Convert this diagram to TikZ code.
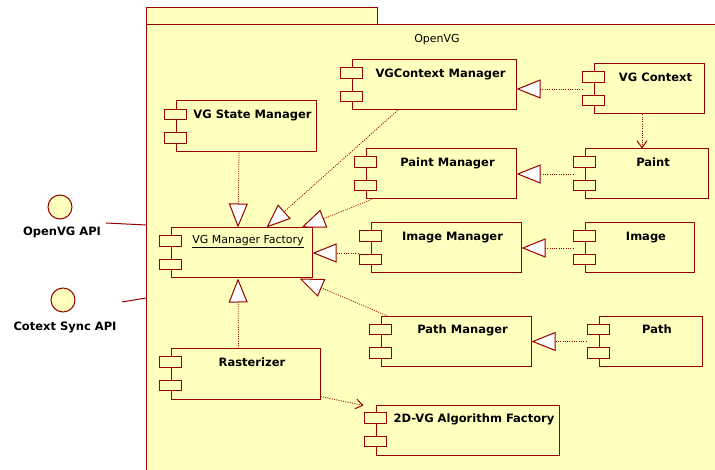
\documentclass[tikz,border=0pt]{standalone}
\usepackage{fontspec}
\setmainfont{DejaVu Sans}
\usetikzlibrary{arrows.meta,calc}

\definecolor{umlred}{RGB}{150,0,0}
\definecolor{umlfill}{RGB}{255,255,190}

\tikzset{
	comp/.style={draw=umlred, fill=umlfill, line width=1pt, inner sep=0pt},
	smallbox/.style={draw=umlred, fill=umlfill, line width=1pt, inner sep=0pt,
		minimum width=22pt, minimum height=10.5pt},
	lbl/.style={anchor=base, inner sep=0pt, xshift=6.5pt, yshift=-18pt,
		font=\fontsize{11.5}{14}\selectfont\bfseries},
	realize/.style={umlred, line width=0.8pt, dash pattern=on 1pt off 1.3pt,
		-{Triangle[length=24pt, width=19pt, fill=white, line width=1pt]}},
	depend/.style={umlred, line width=0.8pt, dash pattern=on 1pt off 1.3pt,
		-{Straight Barb[length=7pt, width=10pt, line width=1pt]}},
	iface/.style={circle, draw=umlred, fill=umlfill, line width=1pt, minimum size=24pt, inner sep=0pt},
}

\begin{document}
\begin{tikzpicture}[x=1pt, y=-1pt]

		\useasboundingbox (0,0) rectangle (715,470);

		% Draw the package with its tab
		\draw[umlred, fill=umlfill, line width=1pt] (146,8) rectangle (377,25);
		\draw[umlred, fill=umlfill, line width=1pt] (146,25) rectangle (730,490);
		\node[font=\fontsize{11}{13}\selectfont] (pkgname) at (437,40) {OpenVG};

		% Draw the components
		\node[comp, minimum width=140pt, minimum height=51pt,
			label={[lbl]north:VG State Manager}] (vgsm) at (246,126.5) {};
		\node[comp, minimum width=164pt, minimum height=50pt,
			label={[lbl]north:VGContext Manager}] (vgcm) at (434,85) {};
		\node[comp, minimum width=110pt, minimum height=50pt,
			label={[lbl]north:VG Context}] (vgc) at (649,89) {};
		\node[comp, minimum width=150pt, minimum height=50pt,
			label={[lbl]north:Paint Manager}] (pm) at (441,174) {};
		\node[comp, minimum width=123pt, minimum height=50pt,
			label={[lbl]north:Paint}] (paint) at (646.5,174) {};
		\node[comp, minimum width=150pt, minimum height=50pt,
			label={[lbl]north:Image Manager}] (im) at (446,248) {};
		\node[comp, minimum width=109pt, minimum height=50pt,
			label={[lbl]north:Image}] (img) at (639.5,248) {};
		\node[comp, minimum width=141pt, minimum height=50pt,
			label={[lbl, font=\fontsize{11}{13}\selectfont, yshift=2pt]north:\underline{VG Manager Factory}}] (vgmf) at (241.5,253) {};
		\node[comp, minimum width=150pt, minimum height=50pt,
			label={[lbl]north:Path Manager}] (pthm) at (456,341.5) {};
		\node[comp, minimum width=103pt, minimum height=50pt,
			label={[lbl]north:Path}] (path) at (650.5,341.5) {};
		\node[comp, minimum width=149pt, minimum height=50pt,
			label={[lbl]north:Rasterizer}] (rast) at (245.5,374) {};
		\node[comp, minimum width=183pt, minimum height=50pt,
			label={[lbl]north:2D-VG Algorithm Factory}] (algo) at (467.5,430) {};

		% Draw the two small boxes on each component
		\foreach \n in {vgsm,vgcm,vgc,pm,paint,im,img,vgmf,pthm,path,rast,algo} {
			\node[smallbox] (\n-a) at ([yshift=12pt]\n.west) {};
			\node[smallbox] (\n-b) at ([yshift=-11.5pt]\n.west) {};
		}

		% Draw the realizations into the factory
		\draw[realize] ([xshift=-7pt]vgsm.south) -- ([xshift=-3.5pt]vgmf.north);
		\draw[realize] ([xshift=46pt]vgcm.south west) -- ([xshift=96pt]vgmf.north west);
		\draw[realize] ([xshift=6pt]pm.south west) -- ([xshift=-11pt]vgmf.north east);
		\draw[realize] ([xshift=-12pt]im.west |- vgmf.east) -- (vgmf.east);
		\draw[realize] ([xshift=7pt]pthm.north west) -- ([xshift=-13pt]vgmf.south east);
		\draw[realize] ([xshift=-7pt]rast.north) -- ([xshift=-3.5pt]vgmf.south);

		% Draw the realizations into the managers
		\draw[realize] ([xshift=-11pt]vgc.west) -- (vgcm.east |- vgc.west);
		\draw[realize] ([xshift=-11pt]paint.west) -- (pm.east |- paint.west);
		\draw[realize] ([xshift=-11pt]img.west) -- (im.east |- img.west);
		\draw[realize] ([xshift=-12pt]path.west) -- (pthm.east |- path.west);

		% Draw the dependencies
		\draw[depend] ([xshift=-7pt]vgc.south) -- ([xshift=-4.5pt]paint.north);
		\draw[depend] ([yshift=3pt]rast.south east) -- ([xshift=-12pt, yshift=-1pt]algo.north west);

		% Draw the provided interfaces
		\node[iface] (api) at (60,207) {};
		\node[font=\fontsize{11.5}{14}\selectfont\bfseries] (api-lbl) at (62,232) {OpenVG API};
		\node[iface] (sync) at (63,300) {};
		\node[font=\fontsize{11.5}{14}\selectfont\bfseries] (sync-lbl) at (65,327) {Cotext Sync API};

		\coordinate (api-a) at (106,223);
		\coordinate (api-b) at (146,225);
		\coordinate (sync-a) at (122,302);
		\coordinate (sync-b) at (146,298);
		\draw[umlred, line width=1pt] (api-a) -- (api-b);
		\draw[umlred, line width=1pt] (sync-a) -- (sync-b);

	\end{tikzpicture}
\end{document}
